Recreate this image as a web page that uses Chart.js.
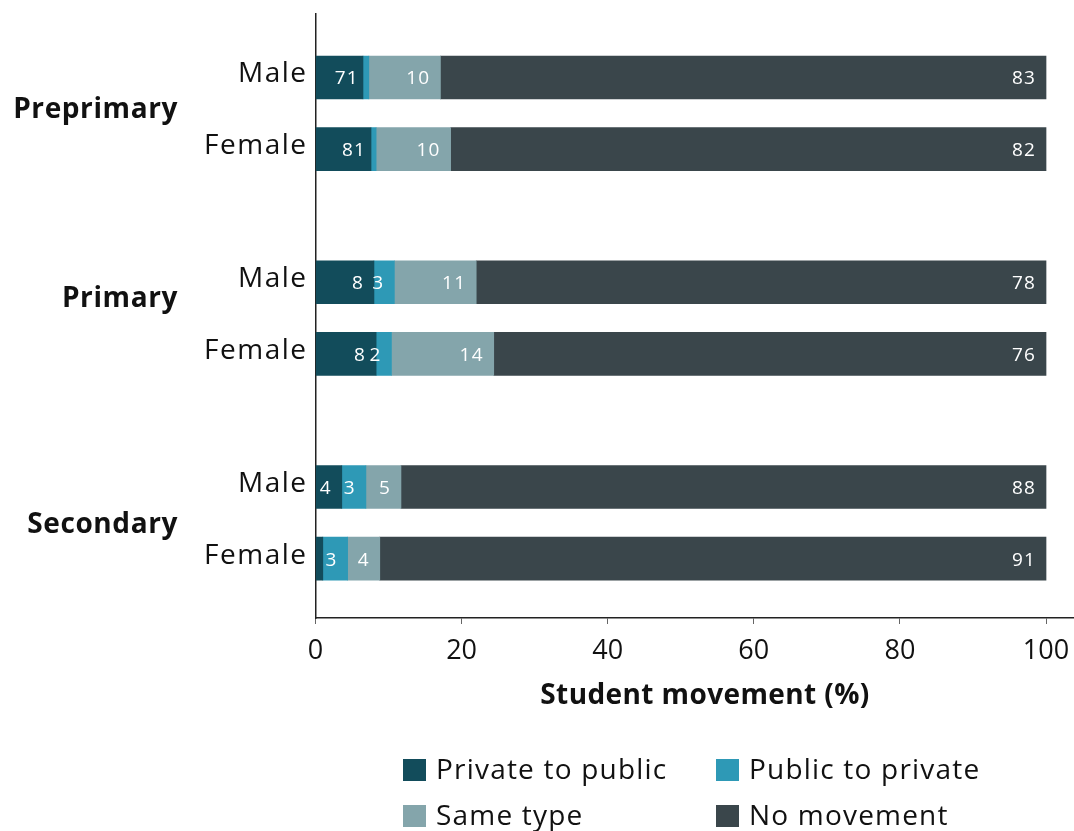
<!DOCTYPE html>
<html>
<head>
<meta charset="utf-8">
<script src="https://cdn.jsdelivr.net/npm/chart.js@4.4.1/dist/chart.umd.min.js"></script>
<style>
  html, body { margin: 0; padding: 0; background: #ffffff; }
  canvas { display: block; }
</style>
</head>
<body>
<canvas id="chart" width="1074" height="831"></canvas>
<script>
// ---- Data ----
const GROUPS = ['Preprimary', 'Primary', 'Secondary'];
const ROW_LABELS = ['Male', 'Female', 'Male', 'Female', 'Male', 'Female'];
const SERIES_NAMES = ['Private to public', 'Public to private', 'Same type', 'No movement'];
const PRIVATE_TO_PUBLIC = [6.5, 7.6, 8.0, 8.3, 3.6, 1.0];
const PUBLIC_TO_PRIVATE = [0.8, 0.7, 2.8, 2.1, 3.3, 3.4];
const SAME_TYPE = [9.8, 10.2, 11.2, 14.0, 4.8, 4.4];
const NO_MOVEMENT = [82.9, 81.5, 78.0, 75.6, 88.3, 91.2];
const X_TICKS = [0, 20, 40, 60, 80, 100];
const X_TITLE = 'Student movement (%)';

// ---- Styling / layout ----
const COLORS = ['#124c5b', '#2e99b6', '#84a5ab', '#3a464b'];
const FONT = "'Open Sans', 'Noto Sans', sans-serif";
const TEXT_COLOR = '#111111';
const GROUP_STEP = 2.857;       // spacing between groups, in row units
const ROWS_PER_GROUP = 2;
const GROUP_LABEL_NUDGE = [5, -11, 10]; // px offsets of group label baselines from group middle

function rowPos(i) {
  return Math.floor(i / ROWS_PER_GROUP) * GROUP_STEP + (i % ROWS_PER_GROUP);
}

const seriesValues = [PRIVATE_TO_PUBLIC, PUBLIC_TO_PRIVATE, SAME_TYPE, NO_MOVEMENT];
const datasets = SERIES_NAMES.map((name, s) => ({
  label: name,
  data: seriesValues[s].map((v, i) => ({ x: v, y: rowPos(i) })),
  backgroundColor: COLORS[s],
  borderWidth: 0,
  barThickness: 43
}));

const dataLabelPlugin = {
  id: 'dataLabels',
  afterDatasetsDraw(chart) {
    const { ctx, chartArea } = chart;
    ctx.save();
    ctx.beginPath();
    ctx.rect(chartArea.left, chartArea.top, chartArea.right - chartArea.left, chartArea.bottom - chartArea.top);
    ctx.clip();
    ctx.font = '19px ' + FONT;
    ctx.letterSpacing = '1.2px';
    ctx.fillStyle = '#ffffff';
    ctx.textAlign = 'right';
    ctx.textBaseline = 'alphabetic';
    const nRows = chart.data.datasets[0].data.length;
    for (let i = 0; i < nRows; i++) {
      let limit = Infinity;
      for (let di = chart.data.datasets.length - 1; di >= 0; di--) {
        const ds = chart.data.datasets[di];
        const el = chart.getDatasetMeta(di).data[i];
        const v = ds.data[i].x;
        if (!v) continue;
        const txt = String(Math.round(v));
        const w = ctx.measureText(txt).width;
        const right = Math.min(el.x - 10, limit);
        ctx.fillText(txt, right, el.y + 7);
        limit = right - w;
      }
    }
    ctx.restore();
  }
};

const decorPlugin = {
  id: 'decor',
  afterDraw(chart) {
    const { ctx, chartArea } = chart;
    const y = chart.scales.y;
    ctx.save();
    ctx.fillStyle = TEXT_COLOR;
    ctx.textBaseline = 'alphabetic';
    // row labels
    ctx.font = '28px ' + FONT;
    ctx.letterSpacing = '1.5px';
    ctx.textAlign = 'right';
    ROW_LABELS.forEach((lab, i) => {
      const py = y.getPixelForValue(rowPos(i));
      ctx.fillText(lab, chartArea.left - 8, py + 5);
    });
    // group labels
    ctx.font = 'bold 28px ' + FONT;
    ctx.letterSpacing = '0.6px';
    GROUPS.forEach((g, gi) => {
      const first = y.getPixelForValue(rowPos(gi * ROWS_PER_GROUP));
      const last = y.getPixelForValue(rowPos(gi * ROWS_PER_GROUP + ROWS_PER_GROUP - 1));
      const mid = (first + last) / 2;
      ctx.fillText(g, 178, mid + GROUP_LABEL_NUDGE[gi]);
    });
    // x axis title
    ctx.textAlign = 'center';
    ctx.letterSpacing = '0.4px';
    ctx.fillText(X_TITLE, 705, 704);
    // legend
    ctx.font = '28px ' + FONT;
    ctx.letterSpacing = '1.2px';
    ctx.textAlign = 'left';
    const cols = [403, 716];
    const rows = [759, 805];
    SERIES_NAMES.forEach((name, s) => {
      const cx = cols[s % 2];
      const ry = rows[Math.floor(s / 2)];
      ctx.fillStyle = COLORS[s];
      ctx.fillRect(cx, ry, 23, 22);
      ctx.fillStyle = TEXT_COLOR;
      ctx.fillText(name, cx + 33, ry + 20);
    });
    ctx.restore();
  }
};

new Chart(document.getElementById('chart'), {
  type: 'bar',
  data: { datasets },
  options: {
    indexAxis: 'y',
    responsive: false,
    animation: false,
    layout: { padding: { top: 14, left: 0, right: 0, bottom: 0 } },
    plugins: { legend: { display: false }, tooltip: { enabled: false } },
    scales: {
      x: {
        type: 'linear',
        stacked: true,
        min: 0,
        max: 103.83,
        offset: false,
        afterBuildTicks(scale) { scale.ticks = X_TICKS.map(v => ({ value: v })); },
        afterFit(scale) { scale.height = 831 - 618; scale.paddingLeft = 0; scale.paddingRight = 0; },
        grid: { display: true, offset: false, drawOnChartArea: false, drawTicks: true, tickLength: 6, color: '#666666', lineWidth: 1 },
        border: { display: true, color: '#222222', width: 1.5 },
        ticks: { font: { family: FONT, size: 27 }, color: TEXT_COLOR, padding: 11, maxRotation: 0, autoSkip: false }
      },
      y: {
        type: 'linear',
        stacked: true,
        reverse: true,
        offset: false,
        min: -0.886,
        max: 7.542,
        afterFit(scale) { scale.width = 315.5; scale.paddingTop = 0; scale.paddingBottom = 0; },
        grid: { display: false, offset: false },
        border: { display: true, color: '#222222', width: 1.5 },
        ticks: { display: false }
      }
    }
  },
  plugins: [dataLabelPlugin, decorPlugin]
});
</script>
</body>
</html>
